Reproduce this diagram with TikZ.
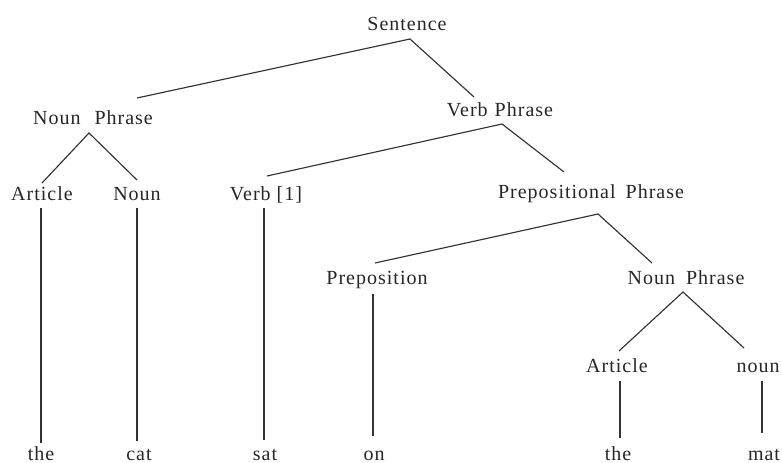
\documentclass[tikz,border=0pt]{standalone}
\usepackage{fontspec}
\setmainfont{Liberation Serif}[LetterSpace=5]
\begin{document}
\begin{tikzpicture}[x=1pt,y=-1pt,
  lbl/.style={anchor=base,inner sep=0pt,font=\fontsize{20}{24}\selectfont,text=black!85},
  edge/.style={line width=1.15pt,draw=black!80,line join=miter}]
\useasboundingbox (0,0) rectangle (782,463);

% category labels (placed by baseline)
\node[lbl] (S)    at (407,30)  {Sentence};
\node[lbl] (NP1)  at (93,124)  {Noun\hspace{14pt}Phrase};
\node[lbl] (VP)   at (500,116) {Verb\hspace{7pt}Phrase};
\node[lbl] (Art1) at (42,200)  {Article};
\node[lbl] (N1)   at (137,200) {Noun};
\node[lbl] (V)    at (266,200) {Verb [1]};
\node[lbl] (PP)   at (591,198) {Prepositional\hspace{10pt}Phrase};
\node[lbl] (P)    at (377,284) {Preposition};
\node[lbl] (NP2)  at (686,284) {Noun\hspace{11pt}Phrase};
\node[lbl] (Art2) at (617,372) {Article};
\node[lbl] (N2)   at (758,372) {noun};

% words
\node[lbl] (w1) at (41,460)  {the};
\node[lbl] (w2) at (139,460) {cat};
\node[lbl] (w3) at (265,460) {sat};
\node[lbl] (w4) at (374,460) {on};
\node[lbl] (w5) at (618,460) {the};
\node[lbl] (w6) at (764,460) {mat};

% branches
\draw[edge] ([shift={(44,-26)}]NP1.base) -- ([shift={(3,9)}]S.base) -- ([shift={(-26,-19)}]VP.base);
\draw[edge] ([shift={(0,-17)}]Art1.base) -- ([shift={(-4,9)}]NP1.base) -- ([shift={(0,-20)}]N1.base);
\draw[edge] ([shift={(1,-24)}]V.base) -- ([shift={(2,8)}]VP.base) -- ([shift={(-27,-26)}]PP.base);
\draw[edge] ([shift={(-2,-21)}]P.base) -- ([shift={(7,16)}]PP.base) -- ([shift={(-34,-21)}]NP2.base);
\draw[edge] ([shift={(2,-21)}]Art2.base) -- ([shift={(-3,8)}]NP2.base) -- ([shift={(-14,-24)}]N2.base);

% terminal stems
\draw[edge] ([shift={(-1,8)}]Art1.base) -- ([shift={(0,-17)}]w1.base);
\draw[edge] ([shift={(0,8)}]N1.base) -- ([shift={(-2,-19)}]w2.base);
\draw[edge] ([shift={(-2,8)}]V.base) -- ([shift={(-1,-20)}]w3.base);
\draw[edge] ([shift={(-4,10)}]P.base) -- ([shift={(-1,-24)}]w4.base);
\draw[edge] ([shift={(3,9)}]Art2.base) -- ([shift={(2,-22)}]w5.base);
\draw[edge] ([shift={(4,9)}]N2.base) -- ([shift={(-2,-27)}]w6.base);
\end{tikzpicture}
\end{document}
